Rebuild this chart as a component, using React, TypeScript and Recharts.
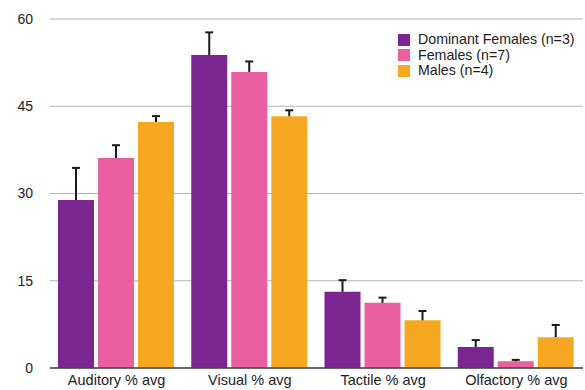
import React from "react";
import { Bar, BarChart, CartesianGrid, Rectangle, XAxis, YAxis } from "recharts";

const senses = ["Auditory % avg", "Visual % avg", "Tactile % avg", "Olfactory % avg"];
const dominantFemales = [28.9, 53.8, 13.1, 3.6];
const females = [36.1, 50.9, 11.2, 1.15];
const males = [42.3, 43.3, 8.2, 5.3];
const dominantFemalesErr = [5.5, 3.9, 2.0, 1.2];
const femalesErr = [2.2, 1.8, 0.9, 0.25];
const malesErr = [1.0, 1.0, 1.6, 2.1];
const yTicks = [0, 15, 30, 45, 60];

const groups = [
  { key: "dom", name: "Dominant Females (n=3)", color: "#7b2590" },
  { key: "fem", name: "Females (n=7)", color: "#ea5fa0" },
  { key: "male", name: "Males (n=4)", color: "#f6a823" },
];

const data = senses.map((sense, i) => ({
  sense,
  dom: dominantFemales[i],
  fem: females[i],
  male: males[i],
  domErr: dominantFemalesErr[i],
  femErr: femalesErr[i],
  maleErr: malesErr[i],
}));

const font = "'Liberation Sans', Arial, Helvetica, sans-serif";

// bar with an upward-only whisker; px per unit comes from the bar's own scaled height
const barWithError = (key: string) => (props: any) => {
  const { x, y, width, height, fill, payload } = props;
  const value = payload[key];
  const err = payload[`${key}Err`];
  const top = y - (err * height) / value;
  const cx = x + width / 2;
  return (
    <g>
      <Rectangle x={x} y={y} width={width} height={height} fill={fill} />
      <line x1={cx} x2={cx} y1={y} y2={top} stroke="#1a1a1a" strokeWidth={2} />
      <line x1={cx - 4} x2={cx + 4} y1={top} y2={top} stroke="#1a1a1a" strokeWidth={2} />
    </g>
  );
};

// legend sits over the plot, so it is kept out of the chart layout
const LegendBox = () => (
  <div
    style={{
      position: "absolute",
      left: 398,
      top: 32,
      fontFamily: font,
      fontSize: 14.2,
      color: "#222",
      lineHeight: "15.5px",
    }}
  >
    {groups.map((g) => (
      <div key={g.key} style={{ display: "flex", alignItems: "center" }}>
        <span
          style={{ width: 12, height: 12, background: g.color, marginRight: 8, display: "inline-block" }}
        />
        {g.name}
      </div>
    ))}
  </div>
);

export default function App() {
  return (
    <div style={{ position: "absolute", left: 0, top: 0, width: 585, height: 390, background: "#fff" }}>
      <BarChart
        width={585}
        height={390}
        data={data}
        margin={{ top: 19, right: 2, bottom: 0, left: 0 }}
        barCategoryGap={8}
        barGap={4}
      >
        <CartesianGrid vertical={false} stroke="#b8b2ad" strokeWidth={1.2} />
        <XAxis
          dataKey="sense"
          height={22}
          tickLine={false}
          tickSize={0}
          tickMargin={7}
          axisLine={{ stroke: "#444", strokeWidth: 1.5 }}
          tick={{ fill: "#222", fontSize: 14.5, fontFamily: font }}
        />
        <YAxis
          width={50}
          domain={[0, 60]}
          ticks={yTicks}
          axisLine={false}
          tickLine={false}
          tickSize={0}
          tickMargin={17}
          tick={{ fill: "#222", fontSize: 14, fontFamily: font }}
        />
        {groups.map((g) => (
          <Bar
            key={g.key}
            dataKey={g.key}
            name={g.name}
            fill={g.color}
            shape={barWithError(g.key)}
            isAnimationActive={false}
          />
        ))}
      </BarChart>
      <LegendBox />
    </div>
  );
}
